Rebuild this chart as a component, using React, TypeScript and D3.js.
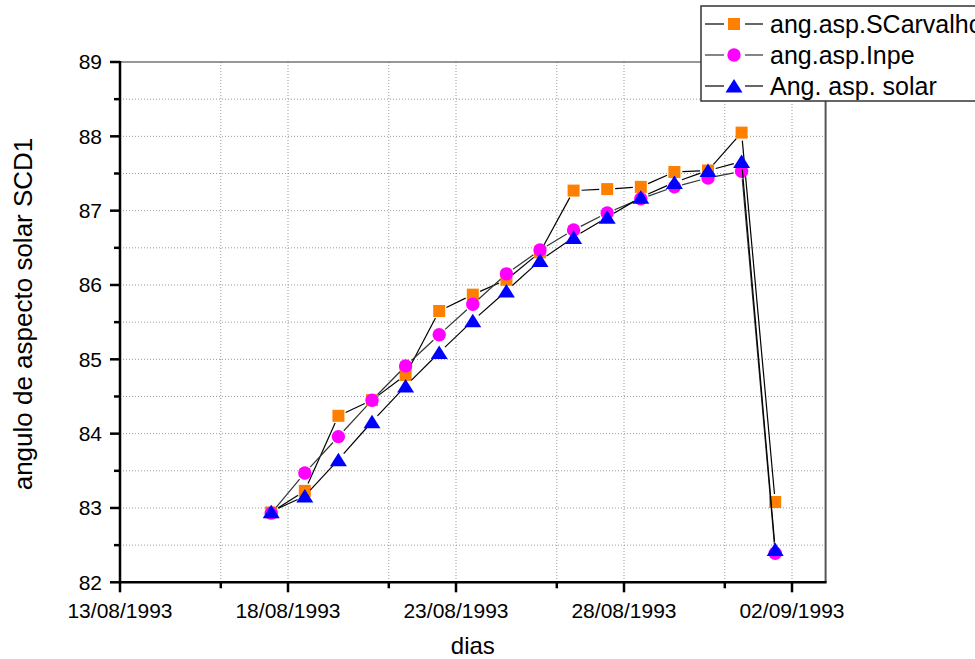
import * as d3 from "d3";
import React from "react";

// dias de medida (meio-dia)
const dias = [
  "1993-08-17T12:00", "1993-08-18T12:00", "1993-08-19T12:00", "1993-08-20T12:00",
  "1993-08-21T12:00", "1993-08-22T12:00", "1993-08-23T12:00", "1993-08-24T12:00",
  "1993-08-25T12:00", "1993-08-26T12:00", "1993-08-27T12:00", "1993-08-28T12:00",
  "1993-08-29T12:00", "1993-08-30T12:00", "1993-08-31T12:00", "1993-09-01T12:00",
];

const scarvalho = [82.94, 83.23, 84.24, 84.45, 84.79, 85.65, 85.87, 86.07, 86.44, 87.27, 87.29, 87.32, 87.52, 87.54, 88.05, 83.08];
const inpe = [82.93, 83.47, 83.96, 84.45, 84.91, 85.33, 85.74, 86.15, 86.47, 86.74, 86.97, 87.16, 87.32, 87.44, 87.53, 82.39];
const solar = [82.95, 83.16, 83.65, 84.16, 84.64, 85.09, 85.52, 85.92, 86.33, 86.64, 86.91, 87.18, 87.38, 87.54, 87.66, 82.44];

const seriesNames = ["ang.asp.SCarvalho", "ang.asp.Inpe", "Ang. asp. solar"];

const xMajor = ["1993-08-13", "1993-08-18", "1993-08-23", "1993-08-28", "1993-09-02"];
const xMinor = ["1993-08-16", "1993-08-21", "1993-08-26", "1993-08-31"];
const yMajor = [82, 83, 84, 85, 86, 87, 88, 89];
const yMinor = [82.5, 83.5, 84.5, 85.5, 86.5, 87.5, 88.5];

const W = 975, H = 659;
const left = 120, right = 825.6, top = 62, bottom = 582.3;
const font = "Arial, 'Liberation Sans', sans-serif";

const parse = (s: string) => new Date(s.length > 10 ? s : s + "T00:00");

function Marker({ kind, x, y }: { kind: number; x: number; y: number }) {
  if (kind === 0) return <rect x={x - 6} y={y - 6} width={12} height={12} fill="#FF8000" />;
  if (kind === 1) return <circle cx={x} cy={y} r={6.7} fill="#FF00FF" />;
  return <path d={`M${x},${y - 7}L${x + 8.5},${y + 6.5}L${x - 8.5},${y + 6.5}Z`} fill="#0000FF" />;
}

export default function App() {
  const x = d3.scaleTime()
    .domain([parse("1993-08-13"), parse("1993-09-03")])
    .range([left, right]);
  const y = d3.scaleLinear().domain([82, 89]).range([bottom, top]);
  const fmt = d3.timeFormat("%d/%m/%Y");

  const allSeries = [scarvalho, inpe, solar];
  const lineColors = ["#000", "#333", "#000"];
  const gap = 8;

  // segmentos com intervalo junto aos símbolos
  const segments = (vals: number[]) => {
    const pts = vals.map((v, i) => [x(parse(dias[i])), y(v)]);
    const out: number[][] = [];
    for (let i = 0; i < pts.length - 1; i++) {
      const [x1, y1] = pts[i], [x2, y2] = pts[i + 1];
      const len = Math.hypot(x2 - x1, y2 - y1);
      if (len <= 2 * gap) continue;
      const ux = (x2 - x1) / len, uy = (y2 - y1) / len;
      out.push([x1 + ux * gap, y1 + uy * gap, x2 - ux * gap, y2 - uy * gap]);
    }
    return out;
  };

  const vGrid = [...xMajor.slice(1), ...xMinor];

  return (
    <svg width={W} height={H} style={{ position: "absolute", left: 0, top: 0 }} fontFamily={font}>
      <rect width={W} height={H} fill="white" />

      {/* grade */}
      {yMinor.concat(yMajor.slice(1, -1)).map(v => (
        <line key={"gy" + v} x1={left} x2={right} y1={y(v)} y2={y(v)} stroke="#999" strokeDasharray="1,2" />
      ))}
      {vGrid.map(d => (
        <line key={"gx" + d} x1={x(parse(d))} x2={x(parse(d))} y1={top} y2={bottom} stroke="#999" strokeDasharray="1,2" />
      ))}

      {/* moldura */}
      <line x1={left} x2={right} y1={top} y2={top} stroke="#333" strokeWidth={1.2} />
      <line x1={right} x2={right} y1={top} y2={bottom} stroke="#555" strokeWidth={2} />
      <line x1={left} x2={left} y1={top - 1} y2={bottom + 1} stroke="#000" strokeWidth={2.5} />
      <line x1={left - 1} x2={right + 1} y1={bottom} y2={bottom} stroke="#000" strokeWidth={2.5} />

      {/* eixo y */}
      {yMajor.map(v => (
        <g key={"ty" + v}>
          <line x1={left - 10} x2={left} y1={y(v)} y2={y(v)} stroke="#000" strokeWidth={2.5} />
          <text x={102} y={y(v)} dy="0.35em" textAnchor="end" fontSize={21}>{v}</text>
        </g>
      ))}
      {yMinor.map(v => (
        <line key={"my" + v} x1={left - 6} x2={left} y1={y(v)} y2={y(v)} stroke="#000" strokeWidth={2.5} />
      ))}

      {/* eixo x */}
      {xMajor.map(d => (
        <g key={"tx" + d}>
          <line x1={x(parse(d))} x2={x(parse(d))} y1={bottom} y2={bottom + 10} stroke="#000" strokeWidth={2.5} />
          <text x={x(parse(d))} y={618} textAnchor="middle" fontSize={21}>{fmt(parse(d))}</text>
        </g>
      ))}
      {xMinor.map(d => (
        <line key={"mx" + d} x1={x(parse(d))} x2={x(parse(d))} y1={bottom} y2={bottom + 6} stroke="#000" strokeWidth={2.5} />
      ))}

      <text x={(left + right) / 2} y={654} textAnchor="middle" fontSize={24}>dias</text>
      <text transform={`translate(32,314) rotate(-90)`} textAnchor="middle" fontSize={26}>
        angulo de aspecto solar SCD1
      </text>

      {/* séries */}
      {allSeries.map((vals, k) => (
        <g key={"s" + k}>
          {segments(vals).map((s, i) => (
            <line key={i} x1={s[0]} y1={s[1]} x2={s[2]} y2={s[3]} stroke={lineColors[k]} strokeWidth={1.2} />
          ))}
          {vals.map((v, i) => (
            <Marker key={i} kind={k} x={x(parse(dias[i]))} y={y(v)} />
          ))}
        </g>
      ))}

      {/* legenda */}
      <rect x={701} y={6} width={300} height={95} fill="white" stroke="#333" strokeWidth={1.5} />
      {seriesNames.map((n, k) => {
        const ry = 24 + k * 31;
        return (
          <g key={"l" + k}>
            <line x1={705} x2={724} y1={ry} y2={ry} stroke={lineColors[k]} strokeWidth={1.2} />
            <line x1={745} x2={763} y1={ry} y2={ry} stroke={lineColors[k]} strokeWidth={1.2} />
            <Marker kind={k} x={734} y={ry} />
            <text x={770} y={ry} dy="0.35em" fontSize={25}>{n}</text>
          </g>
        );
      })}
    </svg>
  );
}
